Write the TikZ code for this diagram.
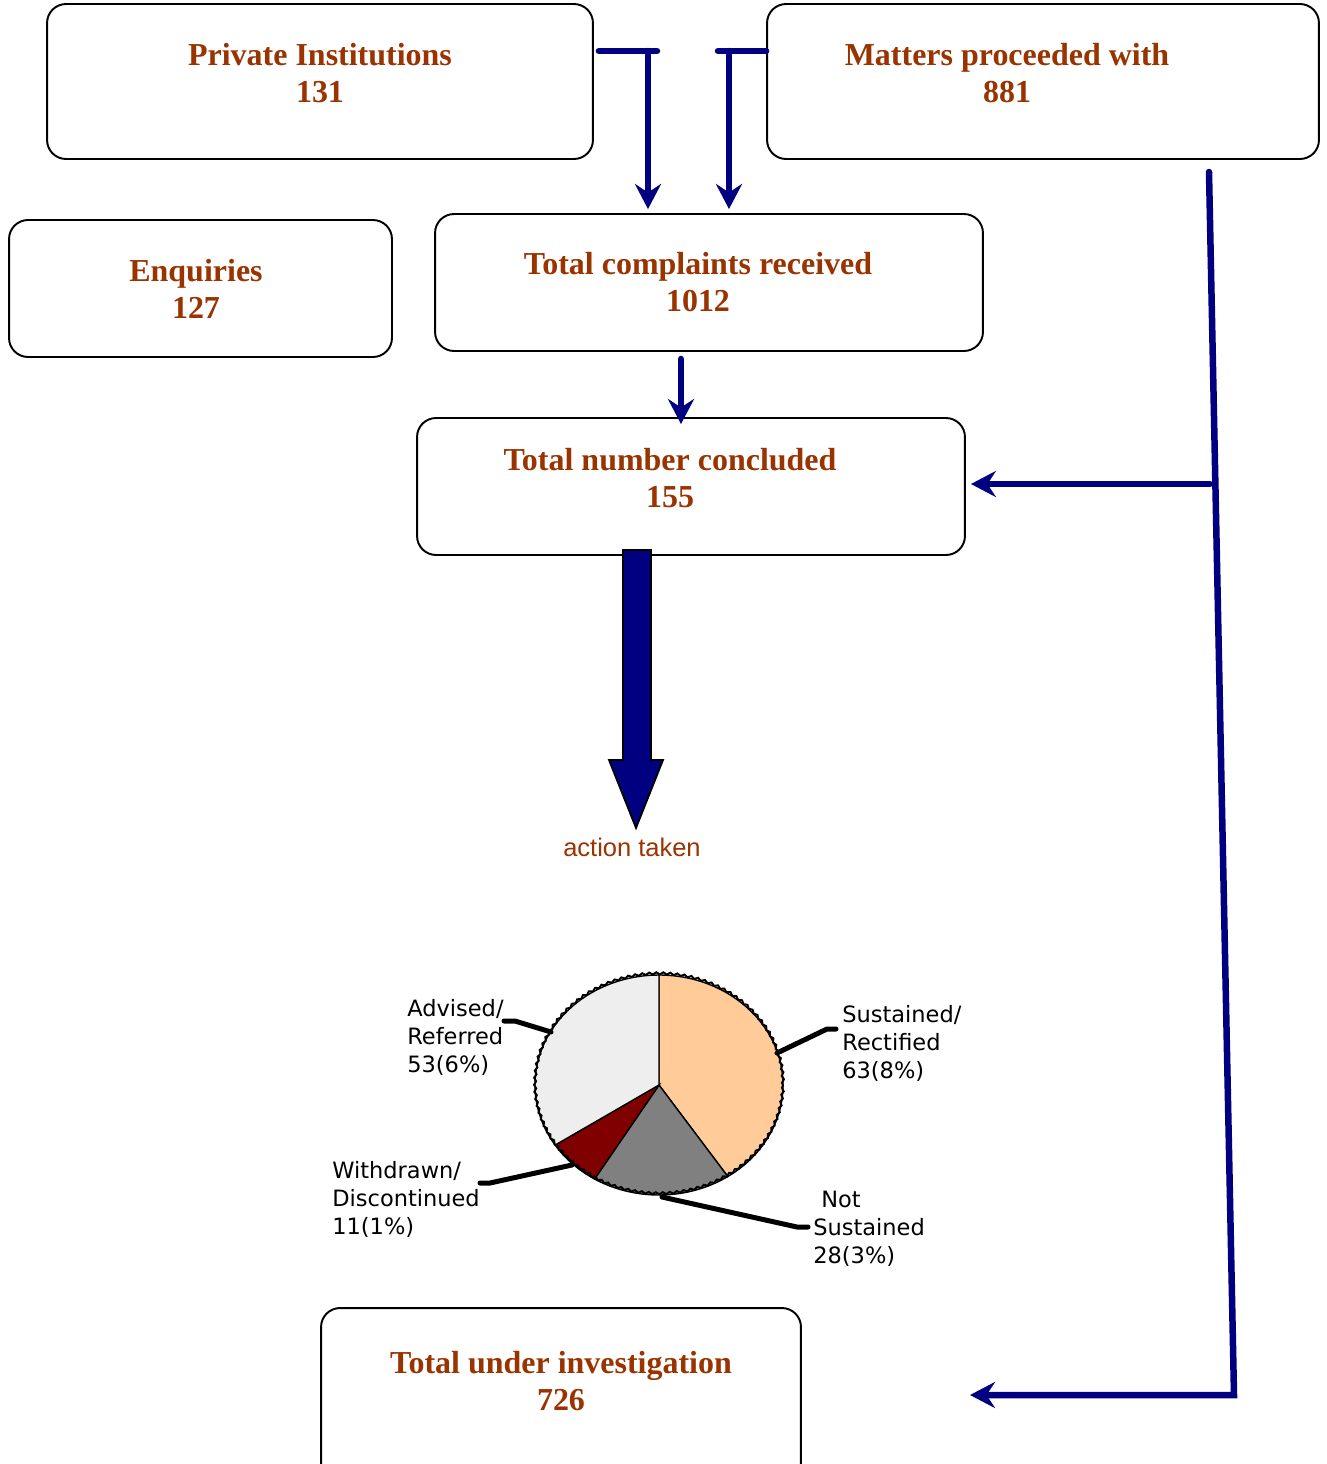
\documentclass[tikz,border=0pt]{standalone}
\usepackage{fontspec}
\setmainfont{Liberation Serif}
\setsansfont{DejaVu Sans}
\newfontfamily\arialfont{Liberation Sans}
\usepackage{tikz}
\usetikzlibrary{positioning}
\usetikzlibrary{arrows.meta,calc,decorations.pathmorphing}
\usepackage{xcolor}
\definecolor{rust}{HTML}{993300}
\definecolor{navyline}{HTML}{000080}
\definecolor{peach}{HTML}{FFCC99}
\definecolor{maroonpie}{HTML}{800000}

\tikzset{
  box/.style={draw=black, line width=1.1pt, rounded corners=0.38cm, inner sep=0pt},
  title/.style={text=rust, font=\fontsize{18.2}{21}\selectfont\bfseries, align=center, inner sep=0pt},
  link/.style={draw=navyline, line width=0.13cm, line cap=round},
  tip/.style={-{Stealth[length=0.5cm,width=0.52cm,inset=0.17cm]}},
  leader/.style={line width=0.1cm, line cap=round},
  pielabel/.style={font=\sffamily\fontsize{12.8}{15.9}\selectfont, align=left, anchor=north west, inner sep=0pt}
}

\begin{document}
\begin{tikzpicture}[x=0.02cm,y=-0.02cm]

\useasboundingbox (0,0) rectangle (1327,1464);

\node[box, minimum width=10.92cm, minimum height=3.1cm] (priv) at (320,81.5) {};
\node[title] (priv-t) at (320,73) {Private Institutions\\131};

\node[box, minimum width=11.04cm, minimum height=3.1cm] (mat) at (1043,81.5) {};
\node[title] (mat-t) at (1007,73) {Matters proceeded with\\881};

\node[box, minimum width=7.66cm, minimum height=2.74cm] (enq) at (200.5,288.5) {};
\node[title] (enq-t) at (196,289) {Enquiries\\127};

\node[box, minimum width=10.96cm, minimum height=2.74cm] (comp) at (709,282.5) {};
\node[title] (comp-t) at (698,282) {Total complaints received\\1012};

\node[box, minimum width=10.96cm, minimum height=2.74cm] (conc) at (691,486.5) {};
\node[title] (conc-t) at (670,478) {Total number concluded\\155};

\node[box, minimum width=9.6cm, minimum height=3.5cm] (inv) at (561,1395.5) {};
\node[title] (inv-t) at (561,1381) {Total under investigation\\726};

\coordinate (pj) at (648,51);
\coordinate (mj) at (729,51);
\coordinate (cd) at (681,0);
\coordinate (rt) at (1209,172);
\coordinate (rm) at (1210,484);
\coordinate (rb) at (1234,1395);
\coordinate (ie) at (970,1395);

\draw[link] ([xshift=0.1cm]priv.east |- pj) -- ([xshift=0.18cm]pj);
\draw[link,tip] (pj) -- ([yshift=0.08cm]comp.north -| pj);

\draw[link] (mat.west |- mj) -- ([xshift=-0.22cm]mj);
\draw[link,tip] (mj) -- ([yshift=0.08cm]comp.north -| mj);

\draw[link,tip] ([yshift=-0.14cm]comp.south -| cd) -- ([yshift=-0.14cm]conc.north -| cd);

\draw[link,tip] (rt) -- (rb) -- (ie);
\draw[link,tip] (rm) -- ([xshift=0.1cm]conc.east |- rm);

\filldraw[fill=navyline, draw=black, line width=1pt] (623,550) -- (651,550) -- (651,760) -- (663,760) -- (636,828) -- (609,760) -- (623,760) -- cycle;

\node[text=rust, font=\arialfont\fontsize{14.5}{17}\selectfont] (act) at (632,847) {action taken};

\begin{scope}[shift={(659,1085)}, y=0.02cm]
\filldraw[fill=peach, draw=black, line width=0.8pt] (0,0) -- (90:124 and 110) arc[start angle=90, end angle=-56.3, x radius=124, y radius=110] -- cycle;
\filldraw[fill=gray, draw=black, line width=0.8pt] (0,0) -- (-56.3:124 and 110) arc[start angle=-56.3, end angle=-121.3, x radius=124, y radius=110] -- cycle;
\filldraw[fill=maroonpie, draw=black, line width=0.8pt] (0,0) -- (-121.3:124 and 110) arc[start angle=-121.3, end angle=-146.9, x radius=124, y radius=110] -- cycle;
\filldraw[fill=gray!13, draw=black, line width=0.8pt] (0,0) -- (-146.9:124 and 110) arc[start angle=-146.9, end angle=-270, x radius=124, y radius=110] -- cycle;
\draw[line width=1.1pt, decorate, decoration={snake, amplitude=0.6pt, segment length=4pt}] (0,0) ellipse [x radius=124, y radius=110];
\end{scope}

\node[pielabel] (adv) at (407,999) {Advised/\\Referred\\53(6\%)};
\node[pielabel] (sus) at (842,1005) {Sustained/\\Rectified\\63(8\%)};
\node[pielabel] (wd) at (332,1161) {Withdrawn/\\Discontinued\\11(1\%)};
\node[pielabel] (ns) at (813,1191) {\hspace*{4.5pt}Not\\Sustained\\28(3\%)};

\coordinate (adv-p) at (551,1032);
\coordinate (sus-p) at (777,1053);
\coordinate (wd-p) at (572,1165);
\coordinate (ns-p) at (662,1197);

\draw[leader] (adv-p) -- (515,1021) -- (504,1021);
\draw[leader] (sus-p) -- (827,1029) -- (836,1029);
\draw[leader] (wd-p) -- (490,1183) -- (480,1183);
\draw[leader] (ns-p) -- (797,1227) -- (808,1227);

\end{tikzpicture}
\end{document}
